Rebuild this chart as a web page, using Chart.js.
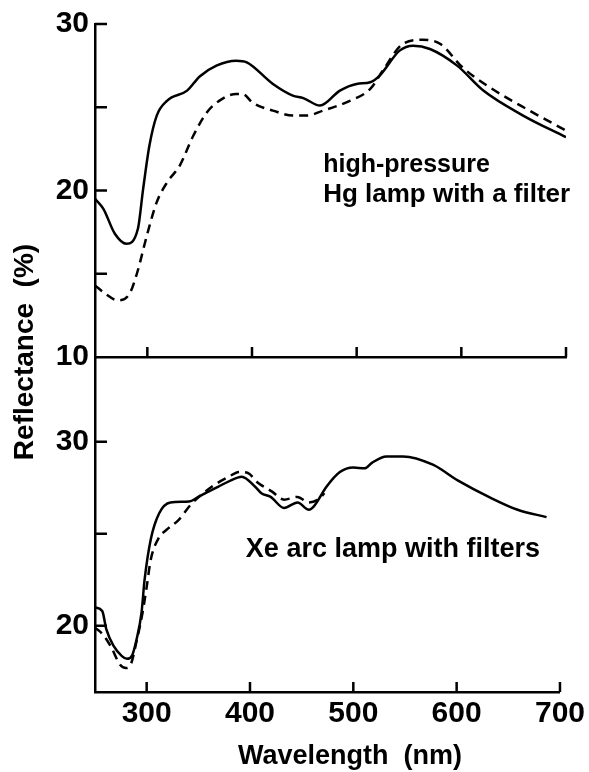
<!DOCTYPE html>
<html lang="en">
<head>
  <meta charset="UTF-8">
  <title>Reflectance spectra</title>
  <script src="https://cdn.jsdelivr.net/npm/chart.js"></script>
  <style>
    body { margin: 0; background: #fff; }
    #wrap { position: relative; width: 589px; height: 772px; }
    canvas { position: absolute; left: 0; top: 0; }
  </style>
</head>
<body>
  <div id="wrap">
    <canvas id="hg-chart" width="589" height="772"></canvas>
    <canvas id="xe-chart" width="589" height="772"></canvas>
  </div>

  <script>
    // axis ticks
    const xTicks = [300, 400, 500, 600, 700];
    const hgYTicks = [10, 15, 20, 25, 30];
    const hgYLabels = [10, 20, 30];
    const xeYTicks = [20, 25, 30];
    const xeYLabels = [20, 30];

    // high-pressure Hg lamp, solid curve
    const hgSolidNm = [250, 258, 269, 280, 291, 296, 302, 309, 319, 338, 350, 366, 385, 395, 420, 439, 449, 465, 484, 500, 513, 522, 541, 554, 570, 596, 621, 659, 700];
    const hgSolidR  = [19.5, 18.9, 17.4, 16.8, 17.7, 20.1, 22.7, 24.5, 25.4, 26.0, 26.85, 27.5, 27.8, 27.7, 26.4, 25.7, 25.55, 25.1, 26.0, 26.4, 26.5, 26.9, 28.4, 28.7, 28.5, 27.5, 26.0, 24.5, 23.2];

    // high-pressure Hg lamp, dashed curve
    const hgDashNm = [250, 260, 272, 283, 290, 300, 309, 319, 331, 344, 357, 369, 385, 391, 401, 420, 439, 452, 468, 494, 513, 525, 544, 563, 580, 601, 627, 665, 700];
    const hgDashR  = [14.3, 13.8, 13.4, 13.8, 15.0, 17.4, 19.3, 20.5, 21.5, 23.3, 24.7, 25.4, 25.8, 25.8, 25.25, 24.8, 24.5, 24.5, 24.8, 25.4, 26.1, 27.2, 28.8, 29.05, 28.8, 27.4, 26.2, 24.8, 23.6];

    // Xe arc lamp, solid curve
    const xeSolidNm = [250, 257, 261, 268, 276, 281, 286, 290, 295, 298, 304, 312, 323, 341, 350, 369, 388, 392, 405, 411, 420, 433, 446, 457, 462, 474, 487, 500, 511, 518, 532, 548, 577, 601, 633, 659, 687];
    const xeSolidR  = [21.0, 20.8, 19.8, 18.9, 18.35, 18.2, 18.4, 19.2, 20.7, 22.5, 24.7, 26.1, 26.7, 26.75, 27.0, 27.55, 28.05, 28.1, 27.55, 27.2, 27.0, 26.4, 26.7, 26.3, 26.5, 27.55, 28.35, 28.6, 28.55, 28.85, 29.2, 29.2, 28.75, 27.9, 26.95, 26.3, 25.9];

    // Xe arc lamp, dashed curve
    const xeDashNm = [250, 258, 266, 274, 280, 285, 290, 296, 300, 304, 312, 319, 331, 343, 363, 378, 390, 398, 407, 421, 433, 446, 457, 467, 472];
    const xeDashR  = [19.9, 19.5, 18.8, 17.9, 17.7, 17.95, 19.1, 20.7, 22.1, 23.6, 24.8, 25.2, 25.75, 26.6, 27.55, 28.05, 28.35, 28.3, 27.8, 27.3, 26.85, 27.0, 26.7, 26.9, 27.2];

    const FONT = '"Liberation Sans", Arial, Helvetica, sans-serif';

    function points(xs, ys) {
      return xs.map((x, i) => ({ x: x, y: ys[i] }));
    }

    function curve(xs, ys, dashed) {
      return {
        data: points(xs, ys),
        borderColor: '#000',
        borderWidth: 2.5,
        borderDash: dashed ? [9, 6] : [],
        pointRadius: 0,
        fill: false,
        cubicInterpolationMode: 'monotone'
      };
    }

    // inward tick marks and free text
    const decorations = {
      id: 'decorations',
      afterDraw(chart, args, opts) {
        const ctx = chart.ctx;
        const x = chart.scales.x;
        const y = chart.scales.y;
        ctx.save();
        ctx.strokeStyle = '#000';
        ctx.lineWidth = 2.5;
        ctx.beginPath();
        xTicks.forEach(v => {
          const px = x.getPixelForValue(v);
          ctx.moveTo(px, x.top);
          ctx.lineTo(px, x.top - 10);
        });
        opts.yTicks.forEach(v => {
          if (v === y.min) return;
          const py = y.getPixelForValue(v);
          ctx.moveTo(y.right, py);
          ctx.lineTo(y.right + 12, py);
        });
        ctx.stroke();

        ctx.fillStyle = '#000';
        ctx.textBaseline = 'alphabetic';
        opts.notes.forEach(n => {
          ctx.font = 'bold ' + n.size + 'px ' + FONT;
          ctx.fillText(n.text, x.getPixelForValue(n.x), y.getPixelForValue(n.y));
        });

        ctx.textAlign = 'center';
        ctx.textBaseline = 'middle';
        if (opts.yTitle) {
          ctx.font = 'bold 28px ' + FONT;
          ctx.save();
          ctx.translate(25, 352);
          ctx.rotate(-Math.PI / 2);
          ctx.fillText(opts.yTitle, 0, 0);
          ctx.restore();
        }
        if (opts.xTitle) {
          ctx.font = 'bold 27px ' + FONT;
          ctx.fillText(opts.xTitle, 350, 757);
        }
        ctx.restore();
      }
    };

    function makeChart(id, cfg) {
      return new Chart(document.getElementById(id), {
        type: 'line',
        data: { datasets: cfg.datasets },
        options: {
          responsive: false,
          animation: false,
          layout: { padding: cfg.padding },
          plugins: {
            legend: { display: false },
            tooltip: { enabled: false },
            decorations: cfg.decorations
          },
          scales: {
            x: {
              type: 'linear',
              min: 250,
              max: 700,
              afterBuildTicks: s => { s.ticks = xTicks.map(v => ({ value: v })); },
              afterFit: s => { s.height = cfg.xHeight; },
              grid: { display: false, drawTicks: false },
              border: { display: true, color: '#000', width: 2.5 },
              ticks: {
                display: cfg.xLabels,
                padding: 4,
                color: '#000',
                font: { family: FONT, size: 30, weight: 'bold' }
              }
            },
            y: {
              type: 'linear',
              min: cfg.yMin,
              max: cfg.yMax,
              afterBuildTicks: s => { s.ticks = cfg.yTicks.map(v => ({ value: v })); },
              afterFit: s => { s.width = 95; },
              grid: { display: false, drawTicks: false },
              border: { display: true, color: '#000', width: 2.5 },
              ticks: {
                padding: 6,
                color: '#000',
                font: { family: FONT, size: 30, weight: 'bold' },
                callback: v => cfg.yLabels.includes(v) ? String(v) : ''
              }
            }
          }
        },
        plugins: [decorations]
      });
    }

    makeChart('hg-chart', {
      datasets: [curve(hgSolidNm, hgSolidR, false), curve(hgDashNm, hgDashR, true)],
      padding: { left: 0, right: 23, top: 20, bottom: 415 },
      xHeight: 0,
      xLabels: false,
      yMin: 10,
      yMax: 30,
      yTicks: hgYTicks,
      yLabels: hgYLabels,
      decorations: {
        yTicks: hgYTicks,
        notes: [
          { text: 'high-pressure', x: 468, y: 21.1, size: 25 },
          { text: 'Hg lamp with a filter', x: 468, y: 19.3, size: 26 }
        ],
        yTitle: 'Reflectance  (%)'
      }
    });

    makeChart('xe-chart', {
      datasets: [curve(xeSolidNm, xeSolidR, false), curve(xeDashNm, xeDashR, true)],
      padding: { left: 0, right: 23, top: 357, bottom: 0 },
      xHeight: 80,
      xLabels: true,
      yMin: 16.4,
      yMax: 34.6,
      yTicks: xeYTicks,
      yLabels: xeYLabels,
      decorations: {
        yTicks: xeYTicks,
        notes: [
          { text: 'Xe arc lamp with filters', x: 396, y: 23.75, size: 27 }
        ],
        xTitle: 'Wavelength  (nm)'
      }
    });
  </script>
</body>
</html>
